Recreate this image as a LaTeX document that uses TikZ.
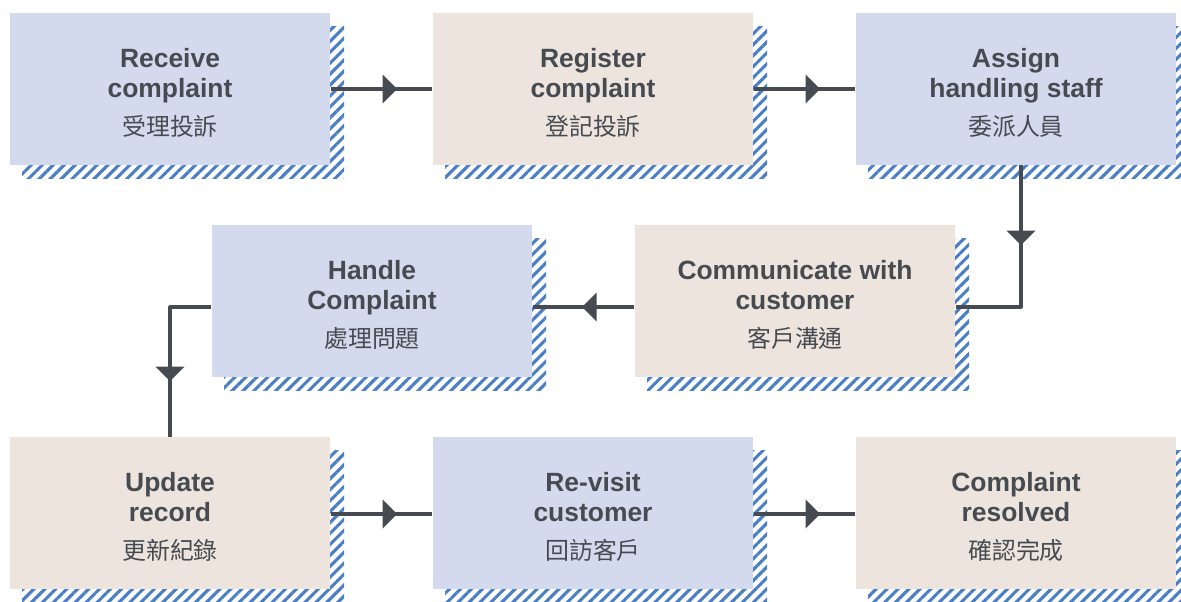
\documentclass[tikz,border=0pt]{standalone}
\usepackage{fontspec}
\setmainfont{Liberation Sans}
\newfontfamily\cjk{Noto Sans CJK TC}
\usepackage{tikz}
\usetikzlibrary{arrows.meta,calc,patterns.meta,decorations.markings}
\definecolor{blu}{HTML}{D4DAED}
\definecolor{bei}{HTML}{EDE5DD}
\definecolor{ink}{HTML}{464B52}
\definecolor{hatch}{HTML}{4A7FC6}
\tikzset{stepbox/.style={minimum width=228.2pt,minimum height=107.7pt,inner sep=0pt,align=center,text=ink,font=\fontsize{18.8}{21}\selectfont\bfseries},
  midtip/.style={postaction={decorate},decoration={markings,mark=at position #1 with {\fill[ink] (7.5,0) -- (-7,14.5) -- (-7,-14.5) -- cycle;}}}}
\newcommand{\zh}[1]{\\[6pt]{\cjk\mdseries\fontsize{17}{20}\selectfont #1}}

\begin{document}
\begin{tikzpicture}[x=0.025cm,y=-0.025cm,line join=round]
\useasboundingbox (0,0) rectangle (1181,601);
% --- boxes, each with its hatched shadow
\foreach \n/\x/\y/\c/\t in {rcv/170/89/blu/{Receive\\complaint\zh{受理投訴}},reg/593/89/bei/{Register\\complaint\zh{登記投訴}},asg/1016/89/blu/{Assign\\handling staff\zh{委派人員}},com/795/301/bei/{Communicate with\\customer\zh{客戶溝通}},hdl/372/301/blu/{Handle\\Complaint\zh{處理問題}},upd/170/513/bei/{Update\\record\zh{更新紀錄}},rev/593/513/blu/{Re-visit\\customer\zh{回訪客戶}},res/1016/513/bei/{Complaint\\resolved\zh{確認完成}}} {
\fill[pattern={Lines[angle=45,distance=5.5pt,line width=2.2pt]},pattern color=hatch] (\x-148,\y-63) rectangle (\x+174,\y+89);
\node[stepbox,fill=\c] (\n) at (\x,\y) {\rule{0pt}{19pt}\t};
}
% --- connectors
\draw[ink,line width=2.2pt,midtip=0.58] (rcv.east) -- (reg.west);
\draw[ink,line width=2.2pt,midtip=0.58] (reg.east) -- (asg.west);
\draw[ink,line width=2.2pt,midtip=0.35] ($(asg.south)+(5,0)$) |- ($(com.east)+(0,6)$);
\draw[ink,line width=2.2pt,midtip=0.44] ($(com.west)+(0,6)$) -- ($(hdl.east)+(0,6)$);
\draw[ink,line width=2.2pt,midtip=0.63] ($(hdl.west)+(0,6)$) -| (upd.north);
\draw[ink,line width=2.2pt,midtip=0.58] ($(upd.east)+(0,1)$) -- ($(rev.west)+(0,1)$);
\draw[ink,line width=2.2pt,midtip=0.58] ($(rev.east)+(0,1)$) -- ($(res.west)+(0,1)$);
\end{tikzpicture}
\end{document}
